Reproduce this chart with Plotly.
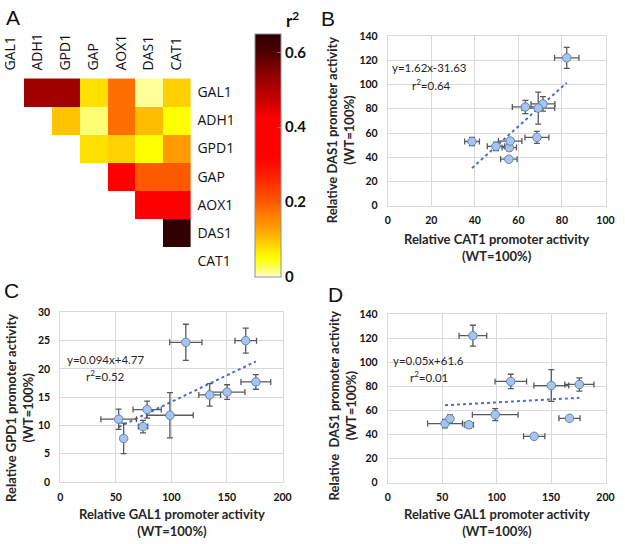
import plotly.graph_objects as go

W, H = 625, 544

# ---------------- Panel A data ----------------
genes = ["GAL1", "ADH1", "GPD1", "GAP", "AOX1", "DAS1", "CAT1"]
r2_matrix = [
    [None, 0.52, 0.52, 0.076, 0.18, 0.01, 0.09],
    [None, None, 0.10, 0.02, 0.18, 0.105, 0.05],
    [None, None, None, 0.076, 0.088, 0.05, 0.135],
    [None, None, None, None, 0.36, 0.20, 0.20],
    [None, None, None, None, None, 0.34, 0.34],
    [None, None, None, None, None, None, 0.64],
    [None, None, None, None, None, None, None],
]
cbar_ticks = [0, 0.2, 0.4, 0.6]
cbar_ticktext = ["0", "0.2", "0.4", "0.6"]

# ---------------- Strain data (relative promoter activity, WT=100%) ----------------
gal1 = [52.6, 57.1, 74.5, 78.2, 98.7, 113.0, 134.5, 150.2, 166.9, 176.0]
gal1_err = [16.0, 1.5, 4.2, 12.7, 21.0, 14.5, 9.8, 16.0, 9.7, 13.4]
gpd1 = [11.1, 7.7, 9.8, 12.8, 11.8, 24.7, 15.4, 15.9, 25.0, 17.7]
gpd1_err = [1.8, 2.7, 1.1, 1.5, 4.0, 3.2, 2.0, 1.3, 2.2, 1.3]
das1 = [49.0, 53.0, 48.0, 122.0, 56.4, 84.0, 38.4, 80.6, 53.4, 81.5]
das1_err = [3.5, 3.3, 2.7, 8.7, 5.0, 6.0, 1.0, 13.2, 1.0, 5.5]
cat1 = [49.7, 38.7, 55.8, 82.2, 68.5, 71.3, 55.6, 69.1, 56.2, 63.2]
cat1_err = [4.0, 3.4, 3.3, 5.6, 5.5, 5.5, 3.8, 7.5, 5.4, 6.0]

# regression results shown in panels
fit_B = dict(slope=1.62, intercept=-31.63, label="y=1.62x-31.63", r2="0.64")
fit_C = dict(slope=0.094, intercept=4.77, label="y=0.094x+4.77", r2="0.52")
fit_D = dict(slope=0.05, intercept=61.6, label="y=0.05x+61.6", r2="0.01")


def px(x):
    return x / W


def py(y):
    return 1 - y / H


colorscale = [
    [0.0, "#fffff2"],
    [0.015, "#ffff9a"],
    [0.077, "#ffff00"],
    [0.117, "#ffe000"],
    [0.185, "#ffaa00"],
    [0.26, "#ff7a00"],
    [0.32, "#ff5000"],
    [0.415, "#ff2000"],
    [0.49, "#ff0000"],
    [0.65, "#ff0000"],
    [0.72, "#d00000"],
    [0.83, "#900000"],
    [0.92, "#500000"],
    [1.0, "#2a0000"],
]

fig = go.Figure()

fig.add_trace(go.Heatmap(
    z=r2_matrix,
    x=list(range(len(genes))),
    y=list(range(len(genes))),
    zmin=0, zmax=0.65,
    colorscale=colorscale,
    xaxis="x", yaxis="y",
    hoverongaps=False,
    colorbar=dict(
        x=px(256.7), xanchor="left", y=py(28.3), yanchor="top",
        len=243.4, lenmode="pixels", thickness=26, thicknessmode="pixels",
        outlinecolor="#909090", outlinewidth=1, xpad=0, ypad=0,
        tickvals=cbar_ticks, ticktext=cbar_ticktext,
        ticks="inside", ticklen=4, tickcolor="#707070",
        tickfont=dict(family="Lato", size=15, color="#111111", weight="bold"),
    ),
))

marker_style = dict(size=8.5, color="#aac3e8", line=dict(color="#5b84c4", width=1))
err_style = dict(color="#595959", thickness=1.3, width=3)


def add_panel(xs, xerr, ys, yerr, fit, xa, ya):
    x0, x1 = min(xs), max(xs)
    fig.add_trace(go.Scatter(
        x=[x0, x1],
        y=[fit["slope"] * x0 + fit["intercept"], fit["slope"] * x1 + fit["intercept"]],
        mode="lines", line=dict(color="#4472c4", width=2, dash="dot"),
        xaxis=xa, yaxis=ya, showlegend=False, hoverinfo="skip",
    ))
    fig.add_trace(go.Scatter(
        x=xs, y=ys, mode="markers", marker=marker_style,
        error_x=dict(type="data", array=xerr, visible=True, **err_style),
        error_y=dict(type="data", array=yerr, visible=True, **err_style),
        xaxis=xa, yaxis=ya, showlegend=False,
    ))


add_panel(cat1, cat1_err, das1, das1_err, fit_B, "x2", "y2")
add_panel(gal1, gal1_err, gpd1, gpd1_err, fit_C, "x3", "y3")
add_panel(gal1, gal1_err, das1, das1_err, fit_D, "x4", "y4")

tickfont_sc = dict(family="Lato", size=10.5, color="#111111", weight="bold")
grid = "#d9d9d9"


def sc_axis(domain, rng, dtick, anchor, is_x):
    return dict(
        domain=domain, range=rng, dtick=dtick, tick0=0, anchor=anchor,
        showgrid=True, gridcolor=grid, gridwidth=1, zeroline=False,
        showline=True, linecolor=grid, linewidth=1, mirror=True,
        ticks="outside", tickcolor="rgba(0,0,0,0)", ticklen=(5 if is_x else 7),
        tickfont=tickfont_sc, fixedrange=True, ticklabeloverflow="allow",
    )


hm_font = dict(family="Open Sans", size=14, color="#111111")

fig.update_layout(
    width=W, height=H,
    margin=dict(l=0, r=0, t=0, b=0),
    paper_bgcolor="white", plot_bgcolor="white",
    showlegend=False,
    xaxis=dict(
        domain=[0, px(191.3)], range=[-0.252, 6.5], side="top", anchor="y",
        tickvals=list(range(len(genes))), ticktext=genes, tickangle=-90,
        showgrid=False, zeroline=False, showline=False,
        ticks="outside", tickcolor="rgba(0,0,0,0)", ticklen=4,
        tickfont=hm_font, ticklabeloverflow="allow", fixedrange=True,
    ),
    yaxis=dict(
        domain=[py(275), py(74)], range=[6.5, -0.5], side="right", anchor="x",
        tickvals=list(range(len(genes))), ticktext=genes,
        showgrid=False, zeroline=False, showline=False,
        ticks="outside", tickcolor="rgba(0,0,0,0)", ticklen=3,
        tickfont=hm_font, ticklabeloverflow="allow", fixedrange=True,
    ),
    xaxis2=sc_axis([px(392.3), px(614.3)], [0, 100], 20, "y2", True),
    yaxis2=sc_axis([py(204.3), py(30.7)], [0, 140], 20, "x2", False),
    xaxis3=sc_axis([px(58.3), px(285)], [0, 200], 50, "y3", True),
    yaxis3=sc_axis([py(486.7), py(313.3)], [0, 30], 5, "x3", False),
    xaxis4=sc_axis([px(392.3), px(614.3)], [0, 200], 50, "y4", True),
    yaxis4=sc_axis([py(487.3), py(315)], [0, 140], 20, "x4", False),
)

ann = []


def add_text(text, x, y, size, family="Lato", bold=False, angle=0, color="#262626"):
    ann.append(dict(
        text=text, x=px(x), y=py(y), xref="paper", yref="paper",
        xanchor="center", yanchor="middle", showarrow=False, textangle=angle,
        font=dict(family=family, size=size, color=color, weight=("bold" if bold else "normal")),
    ))


# panel letters
add_text("A", 10, 12, 21, family="Liberation Sans", color="#111111")
add_text("B", 331.5, 12.5, 21, family="Liberation Sans", color="#111111")
add_text("C", 8.5, 290.5, 21, family="Liberation Sans", color="#111111")
add_text("D", 338.5, 295.5, 21, family="Liberation Sans", color="#111111")

# colorbar title
add_text("r<sup>2</sup>", 295, 14, 17, bold=True, color="#111111")

# axis titles
add_text("Relative CAT1 promoter activity<br>(WT=100%)", 503.5, 246.5, 13, bold=True)
add_text("Relative DAS1 promoter activity<br>(WT=100%)", 345, 126.7, 13, bold=True, angle=-90)
add_text("Relative GAL1 promoter activity<br>(WT=100%)", 172, 528.3, 13, bold=True)
add_text("Relative GPD1 promoter activity<br>(WT=100%)", 17.5, 410.8, 13, bold=True, angle=-90)
add_text("Relative GAL1 promoter activity<br>(WT=100%)", 503.7, 528.3, 13, bold=True)
add_text("Relative\u00a0 DAS1 promoter activity<br>(WT=100%)", 345.8, 408.3, 13, bold=True, angle=-90)

# equations
add_text(fit_B["label"], 435, 62.7, 11.5)
add_text("r<sup>2</sup>=" + fit_B["r2"], 436.7, 80, 11.5)
add_text(fit_C["label"], 105, 361.7, 11.5)
add_text("r<sup>2</sup>=" + fit_C["r2"], 105, 378, 11.5)
add_text(fit_D["label"], 434, 362.7, 11.5)
add_text("r<sup>2</sup>=" + fit_D["r2"], 434.7, 379, 11.5)

fig.update_layout(annotations=ann)

fig.write_html(
    "out.html",
    config={"displayModeBar": False},
    post_script="document.body.style.margin='0px';document.body.style.overflow='hidden';",
)
